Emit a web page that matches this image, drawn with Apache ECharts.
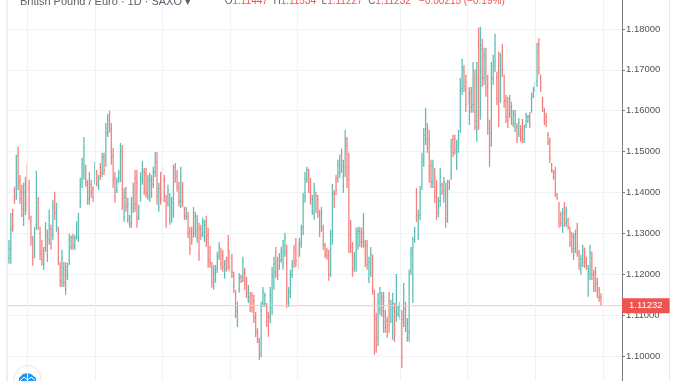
<!DOCTYPE html>
<html lang="en">
<head>
    <meta charset="UTF-8">
    <title>British Pound / Euro</title>
    <script src="https://cdn.jsdelivr.net/npm/echarts@6/dist/echarts.min.js"></script>
    <style>
        html, body { margin: 0; padding: 0; background: #fff; }
    </style>
</head>
<body>
    <div id="main" style="width: 678px; height: 381px"></div>
    <script>
        var myEcharts = echarts.init(document.getElementById('main'))

        // daily bars
        var highs = [
            1.1284,1.1350,1.1360,1.1414,1.1492,1.1512,1.1443,1.1419,1.1424,1.1438,
            1.1472,1.1431,1.1343,1.1294,1.1316,1.1453,1.1389,1.1316,1.1284,1.1267,
            1.1328,1.1309,1.1358,1.1321,1.1382,1.1402,1.1375,1.1316,1.1230,1.1260,
            1.1230,1.1230,1.1228,1.1299,1.1295,1.1299,1.1296,1.1330,1.1350,1.1436,1.1485,1.1536,
            1.1468,1.1431,1.1450,1.1431,1.1416,1.1475,1.1455,1.1443,1.1472,1.1497,1.1497,
            1.1570,1.1592,1.1600,1.1570,1.1509,1.1450,1.1436,1.1455,1.1521,
            1.1516,1.1411,1.1414,1.1387,1.1345,1.1389,1.1424,1.1455,1.1455,
            1.1370,1.1450,1.1477,1.1460,1.1460,1.1443,1.1448,1.1443,1.1463,
            1.1499,1.1499,1.1424,1.1450,1.1463,1.1443,1.1394,1.1419,1.1399,1.1389,
            1.1468,1.1472,1.1455,1.1426,1.1463,1.1426,1.1365,1.1365,1.1353,1.1316,
            1.1316,1.1365,1.1353,1.1345,1.1326,1.1321,1.1338,1.1333,1.1343,1.1314,
            1.1270,1.1230,1.1223,1.1223,1.1255,1.1279,1.1265,1.1260,1.1235,1.1243,
            1.1296,1.1260,1.1250,1.1206,1.1162,1.1133,1.1203,1.1199,1.1243,1.1216,
            1.1194,1.1174,1.1157,1.1157,1.1150,1.1108,1.1069,1.1045,1.1133,1.1169,
            1.1155,1.1130,1.1108,1.1169,1.1218,1.1243,1.1267,1.1243,1.1252,1.1267,
            1.1284,1.1301,1.1272,1.1169,1.1211,1.1235,1.1272,1.1289,1.1277,1.1289,
            1.1321,1.1399,1.1450,1.1463,1.1458,1.1436,1.1394,1.1424,1.1402,1.1394,
            1.1358,1.1365,1.1321,1.1277,1.1265,1.1260,1.1309,1.1421,1.1406,1.1443,
            1.1480,1.1492,1.1507,1.1480,1.1553,1.1536,1.1497,1.1333,1.1279,1.1255,
            1.1314,1.1316,1.1316,1.1314,1.1350,1.1284,1.1284,1.1243,1.1267,1.1248,
            1.1162,1.1106,1.1155,1.1169,1.1157,1.1157,1.1113,1.1096,1.1157,1.1137,
            1.1155,1.1130,1.1201,1.1125,1.1133,1.1113,1.1179,1.1133,1.1093,1.1211,
            1.1267,1.1291,1.1316,1.1411,1.1358,1.1416,1.1497,1.1558,1.1607,1.1570,
            1.1553,1.1480,1.1480,1.1460,1.1431,1.1389,1.1460,1.1424,1.1438,1.1424,
            1.1431,1.1431,1.1531,1.1541,1.1541,1.1529,1.1553,1.1680,1.1727,1.1712,
            1.1688,1.1656,1.1658,1.1658,1.1719,1.1700,1.1719,1.1803,1.1805,1.1776,
            1.1754,1.1754,1.1688,1.1578,1.1719,1.1737,1.1788,1.1695,1.1744,1.1741,
            1.1763,
            1.1688,1.1639,1.1634,1.1639,1.1622,1.1602,1.1602,1.1570,1.1582,1.1565,
            1.1580,1.1565,1.1595,1.1590,1.1597,1.1644,1.1658,1.1670,1.1766,1.1778,
            1.1688,1.1634,1.1607,1.1595,1.1548,1.1534,1.1472,1.1455,1.1463,1.1399,
            1.1377,1.1353,1.1362,1.1377,1.1365,1.1338,1.1316,1.1304,1.1301,1.1309,
            1.1326,1.1260,1.1248,1.1272,1.1265,1.1243,1.1223,1.1272,1.1255,1.1211,
            1.1218,1.1191,1.1169,1.11534
        ]

        var lows = [
            1.1226,1.1226,1.1304,1.1372,1.1382,1.1406,1.1372,1.1340,1.1318,1.1345,
            1.1353,1.1333,1.1270,1.1221,1.1240,1.1309,1.1309,1.1235,1.1221,1.1211,
            1.1255,1.1230,1.1272,1.1260,1.1284,1.1333,1.1304,1.1223,1.1169,1.1169,
            1.1169,1.1150,1.1186,1.1223,1.1260,1.1260,1.1260,1.1285,1.1279,1.1362,1.1411,1.1431,
            1.1414,1.1370,1.1370,1.1387,1.1377,1.1419,1.1415,1.1406,1.1431,1.1438,1.1443,
            1.1463,1.1536,1.1546,1.1468,1.1411,1.1375,1.1399,1.1424,1.1426,
            1.1358,1.1328,1.1353,1.1326,1.1314,1.1314,1.1350,1.1353,1.1314,
            1.1333,1.1377,1.1419,1.1394,1.1387,1.1382,1.1377,1.1387,1.1411,
            1.1438,1.1370,1.1353,1.1370,1.1377,1.1377,1.1314,1.1365,1.1321,1.1326,
            1.1338,1.1424,1.1402,1.1365,1.1362,1.1365,1.1333,1.1333,1.1289,1.1248,
            1.1272,1.1289,1.1291,1.1277,1.1233,1.1284,1.1291,1.1279,1.1267,1.1216,
            1.1216,1.1167,1.1162,1.1179,1.1203,1.1235,1.1211,1.1206,1.1189,1.1206,
            1.1211,1.1206,1.1191,1.1155,1.1093,1.1071,1.1155,1.1179,1.1181,1.1162,
            1.1142,1.1130,1.1108,1.1106,1.1081,1.1047,1.1032,1.0991,1.0998,1.1120,
            1.1120,1.1071,1.1047,1.1081,1.1101,1.1162,1.1191,1.1186,1.1211,1.1228,
            1.1211,1.1243,1.1118,1.1120,1.1142,1.1191,1.1216,1.1218,1.1211,1.1243,
            1.1265,1.1296,1.1375,1.1424,1.1399,1.1370,1.1345,1.1333,1.1350,1.1338,
            1.1291,1.1304,1.1260,1.1240,1.1235,1.1184,1.1194,1.1272,1.1362,1.1394,
            1.1424,1.1436,1.1448,1.1399,1.1438,1.1411,1.1252,1.1252,1.1194,1.1206,
            1.1206,1.1260,1.1267,1.1265,1.1265,1.1218,1.1211,1.1179,1.1194,1.1150,
            1.1003,1.1008,1.1025,1.1101,1.1096,1.1057,1.1057,1.1045,1.1057,1.1081,
            1.1040,1.1035,1.1084,1.1096,1.1089,1.0971,1.1071,1.1059,1.1035,1.1035,
            1.1199,1.1130,1.1277,1.1328,1.1284,1.1333,1.1406,1.1463,1.1516,1.1497,
            1.1424,1.1411,1.1411,1.1375,1.1333,1.1340,1.1365,1.1394,1.1375,1.1314,
            1.1326,1.1406,1.1431,1.1487,1.1492,1.1455,1.1497,1.1546,1.1639,1.1646,
            1.1597,1.1614,1.1565,1.1595,1.1595,1.1553,1.1524,1.1553,1.1578,1.1658,
            1.1663,1.1634,1.1541,1.1463,1.1512,1.1663,1.1695,1.1614,1.1560,1.1619,
            1.1683,
            1.1607,1.1570,1.1558,1.1582,1.1565,1.1560,1.1548,1.1521,1.1536,1.1524,
            1.1521,1.1521,1.1558,1.1570,1.1558,1.1595,1.1631,1.1646,1.1658,1.1688,
            1.1646,1.1597,1.1565,1.1560,1.1516,1.1472,1.1448,1.1431,1.1389,1.1382,
            1.1314,1.1316,1.1301,1.1316,1.1316,1.1309,1.1267,1.1252,1.1235,1.1252,
            1.1243,1.1211,1.1199,1.1218,1.1216,1.1211,1.1145,1.1186,1.1186,1.1157,
            1.1157,1.1142,1.1133,1.11227
        ]

        var opens = [
            1.1240,1.1262,1.1345,1.1405,1.1390,1.1490,1.1430,1.1400,1.1345,1.1370,
            1.1440,1.1410,1.1330,1.1285,1.1250,1.1320,1.1375,1.1300,1.1270,1.1225,
            1.1265,1.1295,1.1285,1.1310,1.1295,1.1390,1.1320,1.1300,1.1220,1.1180,
            1.1215,1.1165,1.1195,1.1235,1.1265,1.1290,1.1268,1.1292,1.1290,1.1375,1.1425,1.1450,
            1.1455,1.1420,1.1385,1.1420,1.1408,1.1428,1.1445,1.1415,1.1462,1.1448,1.1488,
            1.1480,1.1545,1.1588,1.1555,1.1490,1.1435,1.1405,1.1430,1.1440,
            1.1490,1.1340,1.1400,1.1335,1.1338,1.1325,1.1362,1.1435,1.1425,
            1.1340,1.1390,1.1430,1.1450,1.1445,1.1392,1.1388,1.1430,1.1420,
            1.1450,1.1475,1.1365,1.1435,1.1390,1.1430,1.1380,1.1375,1.1335,1.1338,
            1.1355,1.1462,1.1440,1.1412,1.1378,1.1415,1.1358,1.1342,1.1340,1.1305,
            1.1305,1.1300,1.1340,1.1290,1.1310,1.1312,1.1300,1.1290,1.1330,1.1295,
            1.1255,1.1215,1.1175,1.1188,1.1215,1.1245,1.1255,1.1245,1.1200,1.1235,
            1.1275,1.1218,1.1240,1.1195,1.1150,1.1085,1.1165,1.1194,1.1192,1.1205,
            1.1185,1.1140,1.1145,1.1148,1.1135,1.1095,1.1060,1.1035,1.1010,1.1130,
            1.1128,1.1118,1.1095,1.1095,1.1120,1.1175,1.1255,1.1232,1.1220,1.1235,
            1.1225,1.1255,1.1255,1.1128,1.1155,1.1200,1.1260,1.1275,1.1265,1.1252,
            1.1275,1.1315,1.1390,1.1432,1.1445,1.1425,1.1355,1.1350,1.1392,1.1382,
            1.1345,1.1315,1.1310,1.1270,1.1258,1.1245,1.1215,1.1295,1.1398,1.1430,
            1.1435,1.1448,1.1495,1.1415,1.1460,1.1515,1.1460,1.1315,1.1265,1.1215,
            1.1225,1.1272,1.1305,1.1302,1.1280,1.1272,1.1270,1.1190,1.1205,1.1235,
            1.1135,1.1090,1.1045,1.1115,1.1145,1.1075,1.1100,1.1085,1.1135,1.1095,
            1.1060,1.1110,1.1105,1.1102,1.1122,1.1090,1.1090,1.1115,1.1045,1.1060,
            1.1210,1.1160,1.1285,1.1395,1.1295,1.1345,1.1420,1.1480,1.1530,1.1555,
            1.1530,1.1465,1.1425,1.1445,1.1415,1.1350,1.1380,1.1418,1.1385,1.1405,
            1.1345,1.1425,1.1445,1.1530,1.1530,1.1470,1.1508,1.1570,1.1655,1.1700,
            1.1670,1.1645,1.1580,1.1645,1.1615,1.1675,1.1560,1.1760,1.1610,1.1750,
            1.1680,1.1730,1.1660,1.1555,1.1545,1.1680,1.1710,1.1680,1.1710,1.1640,
            1.1745,
            1.1670,1.1625,1.1620,1.1590,1.1610,1.1568,1.1558,1.1560,1.1545,1.1555,
            1.1568,1.1530,1.1565,1.1574,1.1588,1.1602,1.1636,1.1650,1.1672,1.1760,
            1.1680,1.1625,1.1598,1.1585,1.1540,1.1522,1.1468,1.1450,1.1448,1.1395,
            1.1365,1.1345,1.1312,1.1365,1.1325,1.1332,1.1305,1.1295,1.1248,1.1262,
            1.1310,1.1250,1.1208,1.1228,1.1255,1.1235,1.1160,1.1200,1.1240,1.1200,
            1.1205,1.1180,1.1162,1.11447
        ]

        var closes = [
            1.1262,1.1310,1.1318,1.1385,1.1470,1.1425,1.1385,1.1360,1.1400,1.1420,
            1.1375,1.1350,1.1290,1.1240,1.1300,1.1420,1.1325,1.1250,1.1235,1.1250,
            1.1310,1.1245,1.1340,1.1275,1.1365,1.1350,1.1360,1.1240,1.1185,1.1240,
            1.1180,1.1210,1.1220,1.1285,1.1290,1.1270,1.1288,1.1320,1.1335,1.1420,1.1470,1.1510,
            1.1425,1.1385,1.1435,1.1400,1.1388,1.1460,1.1422,1.1435,1.1440,1.1485,1.1455,
            1.1545,1.1578,1.1560,1.1485,1.1430,1.1390,1.1425,1.1448,1.1500,
            1.1385,1.1390,1.1365,1.1372,1.1322,1.1370,1.1410,1.1370,1.1335,
            1.1362,1.1435,1.1465,1.1405,1.1400,1.1430,1.1435,1.1398,1.1450,
            1.1485,1.1390,1.1410,1.1385,1.1445,1.1390,1.1330,1.1405,1.1385,1.1375,
            1.1445,1.1435,1.1415,1.1378,1.1440,1.1378,1.1342,1.1358,1.1300,1.1262,
            1.1285,1.1350,1.1305,1.1330,1.1250,1.1295,1.1328,1.1320,1.1285,1.1235,
            1.1230,1.1180,1.1205,1.1212,1.1242,1.1268,1.1225,1.1218,1.1225,1.1215,
            1.1230,1.1248,1.1205,1.1168,1.1110,1.1120,1.1190,1.1184,1.1230,1.1175,
            1.1155,1.1162,1.1120,1.1118,1.1095,1.1060,1.1040,1.1005,1.1110,1.1158,
            1.1148,1.1085,1.1065,1.1150,1.1195,1.1225,1.1205,1.1198,1.1245,1.1258,
            1.1270,1.1290,1.1135,1.1158,1.1198,1.1225,1.1228,1.1232,1.1225,1.1278,
            1.1310,1.1380,1.1435,1.1455,1.1412,1.1385,1.1382,1.1405,1.1362,1.1350,
            1.1305,1.1350,1.1272,1.1248,1.1245,1.1200,1.1285,1.1395,1.1372,1.1405,
            1.1468,1.1480,1.1460,1.1465,1.1530,1.1430,1.1295,1.1270,1.1210,1.1240,
            1.1290,1.1305,1.1280,1.1278,1.1330,1.1232,1.1225,1.1230,1.1250,1.1165,
            1.1030,1.1025,1.1130,1.1155,1.1110,1.1135,1.1070,1.1060,1.1075,1.1125,
            1.1130,1.1050,1.1175,1.1118,1.1100,1.0995,1.1155,1.1075,1.1080,1.1185,
            1.1250,1.1265,1.1305,1.1345,1.1340,1.1400,1.1475,1.1540,1.1590,1.1510,
            1.1445,1.1425,1.1465,1.1390,1.1350,1.1378,1.1440,1.1402,1.1425,1.1335,
            1.1410,1.1412,1.1510,1.1498,1.1505,1.1515,1.1540,1.1650,1.1705,1.1660,
            1.1615,1.1625,1.1640,1.1610,1.1700,1.1575,1.1680,1.1590,1.1760,1.1680,
            1.1735,1.1655,1.1565,1.1490,1.1680,1.1720,1.1765,1.1630,1.1590,1.1715,
            1.1700,
            1.1625,1.1585,1.1575,1.1628,1.1578,1.1592,1.1590,1.1532,1.1572,1.1535,
            1.1532,1.1555,1.1585,1.1585,1.1568,1.1632,1.1652,1.1664,1.1745,1.1705,
            1.1655,1.1608,1.1575,1.1570,1.1525,1.1485,1.1455,1.1438,1.1402,1.1386,
            1.1328,1.1325,1.1350,1.1328,1.1355,1.1315,1.1278,1.1262,1.1290,1.1298,
            1.1255,1.1222,1.1238,1.1260,1.1228,1.1220,1.1208,1.1255,1.1200,1.1170,
            1.1175,1.1155,1.1145,1.11232
        ]

        // bars where the chart's date gridlines fall
        var dateTicks = [10, 47, 84, 121, 158, 214, 251, 288, 325]

        var lastPrice = closes[closes.length - 1]

        var ohlcData = highs.map(function (h, i) {
            return [i, opens[i], h, lows[i], closes[i]]
        })

        // pixel width of one bar: first bar at x=9, last one at x=601
        var barStep = 592 / (highs.length - 1)
        var xMin = -1 / barStep
        var xMax = 613 / barStep

        var upColor = '#26a69a'
        var downColor = '#ef5350'

        var option = {
            animation: false,
            backgroundColor: '#ffffff',
            textStyle: { fontFamily: 'Liberation Sans' },
            title: {
                left: 15,
                top: -9,
                text: '{n|British Pound / Euro · 1D · SAXO ▾           }{l|O}{v|1.11447  }{l|H}{v|1.11534  }{l|L}{v|1.11227  }{l|C}{v|1.11232   }{v|−0.00215 (−0.19%)}',
                textStyle: {
                    fontWeight: 'normal',
                    rich: {
                        n: { fontSize: 11, fontWeight: 'normal', color: '#5d606b', fontFamily: 'Liberation Sans' },
                        l: { fontSize: 10, fontWeight: 'normal', color: '#5d606b', fontFamily: 'Liberation Sans' },
                        v: { fontSize: 10, fontWeight: 'normal', color: '#ef5350', fontFamily: 'Liberation Sans' }
                    }
                }
            },
            // grid runs past the window so the axis can stop on 1.09 and 1.19
            grid: { left: 8, right: 56, top: -12, height: 409, outerBoundsMode: 'none' },
            xAxis: {
                type: 'value',
                min: xMin,
                max: xMax,
                show: false
            },
            yAxis: {
                type: 'value',
                position: 'right',
                min: 1.09,
                max: 1.19,
                interval: 0.01,
                axisLine: { show: true, onZero: false, lineStyle: { color: '#787b86', width: 1 } },
                axisTick: { show: true, length: 3, lineStyle: { color: '#787b86' } },
                axisLabel: {
                    margin: 4,
                    fontSize: 9.5,
                    color: '#50535e',
                    fontFamily: 'Liberation Sans',
                    formatter: function (v) { return v.toFixed(5) }
                },
                splitLine: { show: true, lineStyle: { color: '#eef4f5', width: 1 } }
            },
            series: [
                {
                    // date gridlines only
                    name: 'dates',
                    type: 'line',
                    data: [],
                    z: 1,
                    markLine: {
                        silent: true,
                        symbol: 'none',
                        precision: 5,
                        label: { show: false },
                        lineStyle: { color: '#eef4f5', width: 1, type: 'solid' },
                        data: dateTicks.map(function (t) { return { xAxis: t } })
                    }
                },
                {
                    name: 'GBP/EUR',
                    type: 'custom',
                    z: 2,
                    data: ohlcData,
                    encode: { x: 0, y: [1, 2, 3, 4] },
                    renderItem: function (params, api) {
                        var i = api.value(0)
                        var o = api.value(1)
                        var c = api.value(4)
                        var top = api.coord([i, api.value(2)])
                        var bottom = api.coord([i, api.value(3)])
                        var openPt = api.coord([i, o])
                        var closePt = api.coord([i, c])
                        var style = { stroke: c >= o ? upColor : downColor, lineWidth: 1.3, opacity: 0.72, fill: null }
                        var line = function (x1, y1, x2, y2) {
                            return { type: 'line', shape: { x1: x1, y1: y1, x2: x2, y2: y2 }, style: style }
                        }
                        return {
                            type: 'group',
                            children: [
                                line(top[0], top[1], bottom[0], bottom[1]),
                                line(openPt[0] - 0.6, openPt[1], openPt[0], openPt[1]),
                                line(closePt[0], closePt[1], closePt[0] + 0.6, closePt[1])
                            ]
                        }
                    }
                },
                {
                    // last price line with its red tag on the axis
                    name: 'last',
                    type: 'line',
                    z: 3,
                    silent: true,
                    showSymbol: false,
                    data: [[xMin, lastPrice], [xMax, lastPrice]],
                    lineStyle: { color: '#fbc4c6', width: 1, type: 'solid' },
                    endLabel: {
                        show: true,
                        distance: 0,
                        formatter: lastPrice.toFixed(5),
                        backgroundColor: '#ef5350',
                        color: '#ffffff',
                        fontSize: 9.5,
                        fontFamily: 'Liberation Sans',
                        padding: [3, 7, 2, 7]
                    }
                }
            ],
            graphic: [
                // pale panel edges
                { type: 'rect', shape: { x: 6, y: 0, width: 2, height: 381 }, style: { fill: '#efefef' }, silent: true },
                { type: 'rect', shape: { x: 669, y: 0, width: 1, height: 381 }, style: { fill: '#ececec' }, silent: true },
                // logo button, cut by the bottom edge
                { type: 'circle', shape: { cx: 27.5, cy: 379, r: 13.5 }, style: { fill: '#ffffff', stroke: '#e4e6ea', lineWidth: 1 }, silent: true },
                { type: 'polygon', shape: { points: [[19, 381], [19, 378], [23, 374], [27, 373], [31, 374], [36, 378], [36, 381]] }, style: { fill: '#2196f3' }, silent: true },
                { type: 'polyline', shape: { points: [[20, 381], [24, 377], [27.5, 380], [31, 377], [35, 380]] }, style: { stroke: '#ffffff', lineWidth: 1, fill: null }, silent: true }
            ]
        }

        myEcharts.setOption(option)
    </script>
</body>
</html>
